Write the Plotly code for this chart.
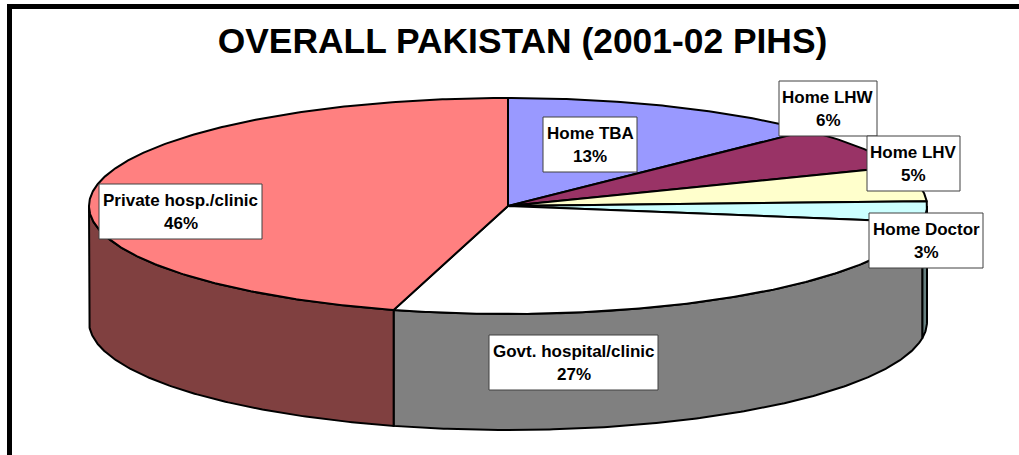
import numpy as np
import plotly.graph_objects as go

# --- data ---
title = "OVERALL PAKISTAN (2001-02 PIHS)"
categories = ["Home TBA", "Home LHW", "Home LHV", "Home Doctor", "Govt. hospital/clinic", "Private hosp./clinic"]
shares = [12.7, 6.4, 5.2, 3.1, 27.0, 45.6]

# --- style ---
top_colors = ["#9999FF", "#993366", "#FFFFCC", "#CCFFFF", "#FFFFFF", "#FF8080"]
side_colors = ["#4C4C7F", "#4C1933", "#7F7F66", "#667F7F", "#808080", "#804040"]
label_boxes = [(543, 637, 117, 172), (779, 877, 81, 136), (867, 960, 136, 191),
               (869, 983, 213, 268), (489, 658, 335, 390), (99, 262, 184, 239)]

W, H = 1019, 455
CX, CY, RX, RY, DEPTH = 508.0, 206.0, 419.0, 108.0, 116.0
FONT = "Liberation Sans, Arial, sans-serif"


def rim(a0, a1, dy=0.0):
    t = np.radians(np.linspace(a0, a1, max(2, int(abs(a1 - a0) * 2) + 1)))
    return CX + RX * np.sin(t), CY - RY * np.cos(t) + dy


fig = go.Figure()
edges = np.concatenate([[0.0], np.cumsum(shares)]) * 3.6

# side walls: only the part of the rim that faces the viewer (90..270 degrees)
for i, cat in enumerate(categories):
    a0, a1 = max(edges[i], 90.0), min(edges[i + 1], 270.0)
    if a1 <= a0:
        continue
    xu, yu = rim(a0, a1)
    xl, yl = rim(a0, a1, DEPTH)
    fig.add_trace(go.Scatter(
        x=np.concatenate([xu, xl[::-1], xu[:1]]), y=np.concatenate([yu, yl[::-1], yu[:1]]),
        mode="lines", fill="toself", fillcolor=side_colors[i],
        line=dict(color="black", width=2), hoverinfo="skip", showlegend=False))

# top face
for i, cat in enumerate(categories):
    xa, ya = rim(edges[i], edges[i + 1])
    fig.add_trace(go.Scatter(
        x=np.concatenate([[CX], xa, [CX]]), y=np.concatenate([[CY], ya, [CY]]),
        mode="lines", fill="toself", fillcolor=top_colors[i], name=cat,
        line=dict(color="black", width=2), hoverinfo="name", showlegend=False))

shapes = [
    dict(type="rect", x0=7, x1=W, y0=4, y1=9, fillcolor="black", line_width=0, layer="above"),
    dict(type="rect", x0=7, x1=12, y0=4, y1=H, fillcolor="black", line_width=0, layer="above"),
]
annotations = []
for cat, val, (x0, x1, y0, y1) in zip(categories, shares, label_boxes):
    shapes.append(dict(type="rect", x0=x0, x1=x1, y0=y0, y1=y1, fillcolor="white",
                       line=dict(color="#404040", width=1), layer="above"))
    for text, yy in ((cat, y0 + 16.5), (f"{round(val)}%", y0 + 39.5)):
        annotations.append(dict(x=(x0 + x1) / 2, y=yy, text=f"<b>{text}</b>", showarrow=False,
                                xanchor="center", yanchor="middle",
                                font=dict(family=FONT, size=17, color="black")))

fig.update_layout(
    width=W, height=H, margin=dict(l=0, r=0, t=0, b=0),
    paper_bgcolor="white", plot_bgcolor="white",
    title=dict(text=f"<b>{title}</b>", x=522.5 / W, y=1 - 41 / H, xanchor="center", yanchor="middle",
               font=dict(family=FONT, size=35.4, color="black")),
    xaxis=dict(range=[0, W], visible=False, fixedrange=True),
    yaxis=dict(range=[H, 0], visible=False, fixedrange=True),
    shapes=shapes, annotations=annotations,
)
fig.write_html("out.html", config=dict(displayModeBar=False),
               post_script="document.body.style.margin='0';document.documentElement.style.overflow='hidden';")
